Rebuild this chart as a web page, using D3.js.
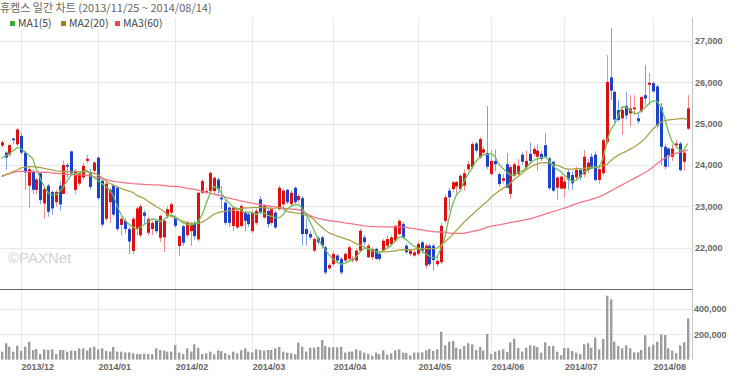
<!DOCTYPE html>
<html>
<head>
<meta charset="utf-8">
<script src="https://cdn.jsdelivr.net/npm/d3@7"></script>
<style>
body { margin: 0; background: #fff; }
</style>
</head>
<body>
<div id="chart"></div>
<script>
// 휴켐스 일봉 2013/11/25 ~ 2014/08/14 (거래일 순서)
const monthLabels = ['2013/12', '2014/01', '2014/02', '2014/03', '2014/04', '2014/05', '2014/06', '2014/07', '2014/08'];
const monthStarts = [5, 25, 45, 65, 86, 108, 127, 146, 169];

const opens = [
  24470,24300,24250,24640,24500,24700,24300,23500,23850,23400,
  23800,23070,23500,23350,23100,23500,23300,24000,24330,23400,
  23550,23700,24100,23830,23860,24180,23620,22700,23100,23500,
  23450,22550,22650,22450,21920,22450,22300,22850,22360,22450,
  22650,22240,22250,22770,22850,22730,22040,22520,22300,22400,
  22600,22200,23330,23330,23370,23370,23650,23210,23090,22970,
  22525,22490,22525,22850,22810,22400,22600,23170,22730,22890,
  22600,22850,22930,23050,23400,23050,23450,23150,23200,22450,
  22330,21930,22230,22250,22010,21500,21600,21810,21730,21690,
  21730,21690,21690,21930,22250,21770,21770,21970,21850,21930,
  22050,22090,22170,22330,22570,22050,21850,21810,21850,22130,
  21570,22050,22050,21600,21650,22650,23380,23420,23480,23420,
  23500,23900,23950,24520,24180,24300,24290,23780,24100,23780,
  23620,24020,23300,23740,23780,24250,23940,24270,24270,24200,
  24270,24480,24160,24080,23450,23430,23430,23830,23760,23700,
  23880,23780,23880,24200,24250,23640,23800,24560,26120,25770,
  25330,25130,25430,25250,25350,25130,25300,25690,25940,25980,
  25900,25400,24440,24400,24200,24480,24520,24080,24880
];
const highs = [
  24600,24330,24520,24660,24900,24780,24330,23950,23900,23700,
  23820,23450,23550,23380,23400,23600,24100,24050,24350,23900,
  23850,24050,24250,23900,24100,24200,23650,23600,23450,23550,
  23500,22800,22700,22500,22750,23000,23050,22900,22750,22650,
  22700,22800,22700,23000,23100,22780,22300,22550,22650,22620,
  22650,23350,23650,23450,23850,23720,23700,23490,23150,23000,
  23000,22950,23050,22900,22850,22900,22950,23250,23050,22950,
  22980,22900,23500,23420,23420,23380,23480,23300,23250,22700,
  22400,22250,22280,22280,22050,21620,21930,21850,21780,21900,
  22050,21800,21980,22450,22300,22100,22010,22000,21900,22210,
  22300,22300,22560,22690,22620,22100,21970,21950,22150,22170,
  22100,22100,22100,21800,22600,23300,23450,23620,23620,23780,
  23900,24100,24550,24560,24680,24450,25430,24350,24380,23820,
  23780,24280,24000,24070,24150,24300,24350,24550,24450,24500,
  24350,24770,24200,24100,23720,23750,23700,23900,23850,23950,
  23920,24360,24150,24280,24330,24000,24650,26660,27310,25800,
  25570,25370,25770,25690,25690,25250,25650,26420,26220,26020,
  25940,25500,24500,24420,24500,24600,24560,24320,25690
];
const lows = [
  24420,23880,24200,24500,24450,24250,23400,22950,23300,23300,
  23050,22700,22750,22800,23000,22900,23300,23700,23750,23300,
  23500,23650,24050,23400,23800,23150,22500,22650,22600,22750,
  22400,22300,22350,21850,21850,22300,22250,22560,22300,22300,
  22350,22150,21900,22700,22800,22480,21800,22050,22250,22040,
  22200,22150,23300,23300,23350,23300,23250,22930,22550,22500,
  22400,22450,22480,22400,22500,22350,22550,22800,22700,22490,
  22550,22450,22900,22900,23050,23000,23050,23100,22050,22050,
  22200,21890,22080,21980,21350,21460,21560,21650,21350,21650,
  21700,21650,21650,21900,22050,21750,21700,21700,21680,21900,
  22000,22050,22150,22300,22200,21850,21800,21780,21800,21850,
  21500,21550,21450,21550,21600,22600,22900,23350,23300,23380,
  23380,23850,23900,24300,24150,24250,23900,23740,23850,23480,
  23550,23450,23180,23700,23750,24000,23900,24050,24200,23850,
  24100,24200,23400,23350,23150,23400,23200,23400,23400,23650,
  23620,23700,23800,23900,23600,23550,23750,24500,25570,25000,
  25050,24730,25100,24930,25210,25000,25250,25450,25450,25750,
  24880,24000,23900,23950,24100,24400,23850,23870,24850
];
const closes = [
  24550,24180,24480,24600,24860,24300,23820,23900,23400,23650,
  23150,23420,22870,22950,23350,23050,24000,23960,23800,23860,
  23800,23980,24150,23470,24060,23200,22560,23550,23400,22800,
  22450,22700,22450,22150,22700,22950,23000,22770,22690,22600,
  22400,22770,22650,22930,23050,22530,22280,22120,22600,22560,
  22280,23330,23610,23370,23810,23690,23410,23170,22600,22600,
  22970,22890,23010,22650,22570,22850,22890,22850,23010,22570,
  22930,22490,23450,23380,23100,23330,23100,23250,22330,22330,
  22250,22210,22130,22050,21400,21580,21850,21690,21400,21850,
  22010,21730,21930,22410,22130,22050,21970,21730,21730,22170,
  22210,22250,22530,22650,22250,21890,21930,21890,22090,21930,
  22050,21600,21700,21680,22530,23220,23220,23580,23590,23740,
  23800,24020,24510,24350,24630,24380,23960,24100,24020,23540,
  23680,23450,23950,24020,23980,24080,24100,24100,24390,24350,
  24150,24200,23440,23380,23700,23720,23600,23650,23560,23880,
  23700,24200,24060,23960,23640,23900,24600,26010,25800,25100,
  25090,25330,25200,25370,25390,25060,25650,25610,25990,25780,
  24950,24440,23960,24240,24400,24520,23880,24300,25370
];
// 거래량 (천주)
const volumeThousands = [
  63,129,102,63,110,68,102,142,76,84,
  44,81,76,81,44,76,76,63,71,68,
  89,89,73,94,102,81,89,68,63,100,
  63,63,57,57,50,44,44,47,44,42,
  89,76,71,63,63,116,55,44,89,63,
  121,94,44,50,63,42,73,68,50,36,
  63,50,73,89,63,57,81,76,71,76,
  76,89,100,63,55,50,42,134,102,63,
  94,94,100,155,108,97,97,97,102,55,
  63,63,81,71,55,44,31,55,42,73,
  39,50,73,81,55,52,34,55,55,57,
  73,84,68,81,221,113,142,147,94,84,
  108,129,121,76,100,71,202,44,63,73,
  81,60,137,165,92,63,94,113,108,100,
  55,137,108,108,63,34,92,89,68,55,
  44,121,129,94,173,81,163,505,476,142,
  108,89,113,89,57,57,76,192,102,118,
  142,200,194,89,71,50,113,137,326
];
const ma5 = [
  24160,24220,24280,24350,24420,24400,24320,24240,24160,23900,
  23680,23480,23330,23280,23270,23350,23480,23620,23760,23790,
  23800,23840,23880,23780,23700,23620,23550,23480,23400,23250,
  23000,22790,22660,22570,22500,22450,22500,22560,22630,22700,
  22680,22630,22670,22760,22790,22750,22680,22600,22570,22550,
  22570,22630,22800,23050,23300,23480,23450,23320,23180,23080,
  22990,22950,22910,22850,22860,22850,22800,22860,22840,22790,
  22760,22730,22720,22800,22930,23000,23030,23050,22950,22790,
  22630,22430,22230,22070,21950,21820,21720,21650,21600,21620,
  21670,21710,21780,21900,21980,21990,21950,21910,21880,21930,
  21990,22050,22150,22250,22260,22190,22100,22040,21990,21920,
  21850,21800,21750,21770,22000,22250,22700,23050,23280,23380,
  23620,23780,23920,24080,24180,24250,24260,24280,24200,24020,
  23920,23830,23760,23750,23820,23850,23920,24030,24110,24150,
  24180,24200,24120,23980,23900,23850,23750,23680,23600,23630,
  23710,23830,23870,23920,23940,23960,24150,24550,24850,24980,
  25200,25410,25400,25340,25250,25250,25320,25400,25490,25550,
  25540,25420,25150,24800,24560,24450,24360,24360,24520
];
const ma20 = [
  23740,23770,23800,23840,23880,23930,23950,23960,23960,23950,
  23940,23920,23900,23880,23860,23850,23840,23840,23840,23840,
  23840,23840,23840,23820,23790,23760,23700,23620,23560,23510,
  23470,23430,23400,23370,23340,23270,23230,23190,23120,23060,
  23000,22950,22880,22800,22760,22720,22670,22640,22610,22590,
  22590,22590,22620,22670,22740,22810,22840,22870,22880,22900,
  22910,22930,22950,22960,22965,22970,22975,22975,22970,22960,
  22950,22955,22970,22950,22880,22860,22840,22830,22810,22780,
  22750,22680,22580,22500,22420,22350,22320,22280,22250,22220,
  22190,22150,22100,22060,22020,21970,21930,21910,21900,21900,
  21900,21910,21920,21940,21950,21950,21950,21960,21980,21980,
  21980,21980,21980,21990,22060,22140,22230,22310,22420,22520,
  22620,22710,22790,22880,22960,23050,23120,23220,23300,23370,
  23430,23490,23560,23650,23720,23800,23880,23940,23990,24030,
  24050,24060,24050,24020,24000,23960,23920,23900,23900,23910,
  23910,23920,23930,23940,23950,23960,23980,24010,24100,24180,
  24240,24290,24330,24380,24430,24490,24560,24650,24760,24870,
  24960,25030,25070,25090,25100,25110,25120,25130,25090
];
const ma60 = [
  23720,23760,23790,23820,23840,23845,23845,23840,23840,23835,
  23830,23825,23820,23810,23800,23790,23780,23775,23770,23765,
  23760,23760,23755,23740,23715,23690,23670,23650,23630,23605,
  23590,23580,23570,23560,23550,23545,23540,23530,23525,23520,
  23518,23515,23505,23495,23485,23480,23475,23460,23440,23425,
  23410,23395,23370,23345,23320,23295,23275,23250,23225,23200,
  23175,23155,23135,23115,23095,23080,23060,23045,23030,23015,
  23000,22985,22970,22955,22945,22935,22930,22920,22880,22830,
  22780,22740,22710,22690,22670,22655,22640,22630,22620,22600,
  22590,22575,22560,22545,22530,22520,22515,22510,22505,22505,
  22505,22505,22505,22505,22500,22490,22475,22460,22445,22430,
  22415,22400,22390,22385,22380,22375,22360,22350,22345,22345,
  22350,22370,22390,22410,22430,22460,22500,22520,22540,22550,
  22570,22590,22610,22625,22640,22660,22680,22700,22720,22750,
  22780,22810,22840,22870,22900,22930,22960,22990,23030,23060,
  23090,23120,23140,23170,23200,23230,23270,23320,23370,23420,
  23470,23520,23570,23620,23670,23720,23770,23820,23880,23950,
  24030,24100,24160,24210,24250,24280,24310,24330,24360
];

const priceTicks = [22000, 23000, 24000, 25000, 26000, 27000];
const volumeTicks = [200000, 400000];
const maNames = ['MA1(5)', 'MA2(20)', 'MA3(60)'];

const maLineColors = ['#6cbf5c', '#aca24c', '#f27489'];
const maLegendColors = ['#3ea63e', '#8c8c14', '#e84a4a'];
const upColor = '#e01010', upWick = '#f28c8c';
const downColor = '#1c42cc', downWick = '#7f9de8';

const width = 740;
const height = 377;
const plotRight = 692;
const plotTop = 18;
const priceBottom = 289;
const volBottom = 360;
const labelFont = 'Liberation Sans, Arial, sans-serif';

const svg = d3.select('#chart')
    .append('svg')
    .attr('width', width)
    .attr('height', height)
    .style('display', 'block');

const x = d3.scaleLinear()
    .domain([0, closes.length - 1])
    .range([1.73, 687.7]);

const y = d3.scaleLinear()
    .domain([22000, 27000])
    .range([247.7, 41]);

const yVol = d3.scaleLinear()
    .domain([0, 400000])
    .range([359.6, 309]);

const px = v => Math.round(v) + 0.5;

// grid
const grid = svg.append('g').attr('stroke', '#e8e8e8').attr('stroke-width', 1);
grid.selectAll('.gv')
    .data(monthStarts)
    .enter().append('line')
    .attr('x1', d => px(x(d))).attr('x2', d => px(x(d)))
    .attr('y1', plotTop).attr('y2', volBottom);
grid.selectAll('.gp')
    .data(priceTicks)
    .enter().append('line')
    .attr('x1', 0).attr('x2', plotRight)
    .attr('y1', d => px(y(d))).attr('y2', d => px(y(d)));
grid.selectAll('.gvol')
    .data(volumeTicks)
    .enter().append('line')
    .attr('x1', 0).attr('x2', plotRight)
    .attr('y1', d => px(yVol(d))).attr('y2', d => px(yVol(d)));

// watermark
svg.append('text')
    .attr('x', 8)
    .attr('y', 263)
    .attr('fill', '#d2d2d2')
    .style('font-family', labelFont)
    .style('font-size', '15px')
    .text('©PAXNet');

// candles
const idx = d3.range(closes.length);
const candles = svg.append('g');
candles.selectAll('.wick')
    .data(idx)
    .enter().append('line')
    .attr('x1', i => px(x(i))).attr('x2', i => px(x(i)))
    .attr('y1', i => y(highs[i])).attr('y2', i => y(lows[i]))
    .attr('stroke', i => closes[i] >= opens[i] ? upWick : downWick)
    .attr('stroke-width', 1);
candles.selectAll('.body')
    .data(idx)
    .enter().append('rect')
    .attr('x', i => Math.round(x(i)) - 1)
    .attr('width', 3)
    .attr('y', i => y(Math.max(opens[i], closes[i])))
    .attr('height', i => Math.max(1, Math.abs(y(opens[i]) - y(closes[i]))))
    .attr('fill', i => closes[i] >= opens[i] ? upColor : downColor);

// moving averages
const maLine = d3.line()
    .x((d, i) => x(i))
    .y(d => y(d));
[ma60, ma20, ma5].forEach((s, k) => {
    svg.append('path')
        .datum(s)
        .attr('fill', 'none')
        .attr('stroke', maLineColors[2 - k])
        .attr('stroke-width', 1.3)
        .attr('d', maLine);
});

// volume
svg.append('g')
    .selectAll('rect')
    .data(idx)
    .enter().append('rect')
    .attr('x', i => Math.round(x(i)) - 1)
    .attr('width', 2.4)
    .attr('y', i => yVol(volumeThousands[i] * 1000))
    .attr('height', i => yVol(0) - yVol(volumeThousands[i] * 1000))
    .attr('fill', '#9c9c9c');

// frame
svg.append('line')
    .attr('x1', 0).attr('x2', plotRight)
    .attr('y1', priceBottom + 0.5).attr('y2', priceBottom + 0.5)
    .attr('stroke', '#666');
svg.append('line')
    .attr('x1', plotRight + 0.5).attr('x2', plotRight + 0.5)
    .attr('y1', plotTop).attr('y2', volBottom)
    .attr('stroke', '#c4c4c4');

// axes
const styleAxis = g => {
    g.select('.domain').remove();
    g.selectAll('line').remove();
    g.selectAll('text')
        .attr('fill', '#666')
        .style('font-family', labelFont)
        .style('font-size', '9px')
        .style('font-weight', 'bold');
};

svg.append('g')
    .attr('transform', `translate(${plotRight},0)`)
    .call(d3.axisRight(y).tickValues(priceTicks).tickSize(0).tickPadding(3).tickFormat(d3.format(',')))
    .call(styleAxis);

svg.append('g')
    .attr('transform', `translate(${plotRight},0)`)
    .call(d3.axisRight(yVol).tickValues(volumeTicks).tickSize(0).tickPadding(2).tickFormat(d3.format(',')))
    .call(styleAxis);

svg.append('g')
    .attr('transform', `translate(0,${volBottom})`)
    .call(d3.axisBottom(x).tickValues(monthStarts).tickSize(0).tickPadding(4)
        .tickFormat((d, i) => monthLabels[i]))
    .call(styleAxis)
    .selectAll('text')
    .attr('text-anchor', 'start');

// title + legend
svg.append('rect')
    .attr('x', 0).attr('y', 0)
    .attr('width', width).attr('height', plotTop)
    .attr('fill', '#fff');
svg.append('text')
    .attr('x', 0)
    .attr('y', 12)
    .attr('fill', '#666')
    .style('font-family', 'Noto Sans CJK KR, sans-serif')
    .style('font-size', '11px')
    .text('휴켐스 일간 차트 (2013/11/25 ~ 2014/08/14)');

const legend = svg.append('g');
legend.append('rect')
    .attr('x', 5.5).attr('y', plotTop)
    .attr('width', 169).attr('height', 13)
    .attr('fill', '#fff');
const legendX = [10, 61, 115];
maNames.forEach((name, k) => {
    legend.append('rect')
        .attr('x', legendX[k]).attr('y', 21)
        .attr('width', 5).attr('height', 5)
        .attr('fill', maLegendColors[k]);
    legend.append('text')
        .attr('x', legendX[k] + 8)
        .attr('y', 27)
        .attr('fill', '#444')
        .style('font-family', 'Noto Sans CJK KR, sans-serif')
        .style('font-size', '10.5px')
        .text(name);
});
</script>
</body>
</html>
